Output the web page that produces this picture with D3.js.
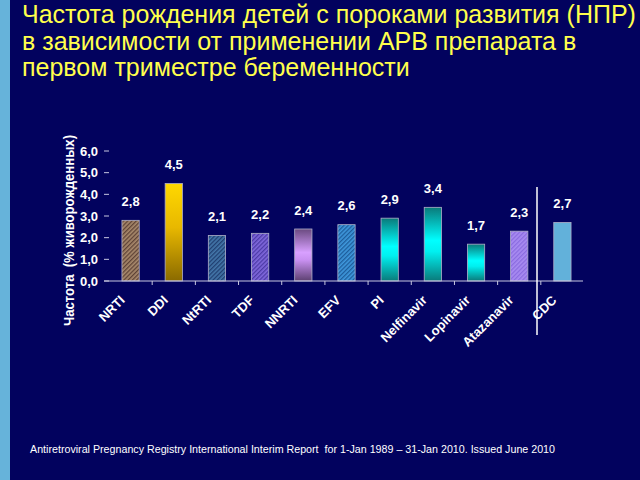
<!DOCTYPE html>
<html><head><meta charset="utf-8">
<script src="https://cdn.jsdelivr.net/npm/d3@7"></script>
<style>html,body{margin:0;padding:0;background:#02025e;}svg{display:block;}</style>
</head><body>
<script>
const categories = ["NRTI","DDI","NtRTI","TDF","NNRTI","EFV","PI","Nelfinavir","Lopinavir","Atazanavir","CDC"];
const values = [2.8,4.5,2.1,2.2,2.4,2.6,2.9,3.4,1.7,2.3,2.7];
const yTicks = [0,1,2,3,4,5,6];
const fills = ["url(#hBrown)","url(#gGold)","url(#hBlue)","url(#hPurple)","url(#gLilac)","url(#hSky)","url(#gCyan)","url(#gCyan)","url(#gCyan)","url(#hLav)","#62b1da"];
const titleLines = ["Частота рождения детей с пороками развития (НПР)","в зависимости от применении АРВ препарата в","первом триместре беременности"];
const yTitle = "Частота  (% живорожденных)";
const footer = "Antiretroviral Pregnancy Registry International Interim Report  for 1-Jan 1989 – 31-Jan 2010. Issued June 2010";

const W=640,H=480;
const FF="Liberation Sans, Arial, sans-serif";
const svg=d3.select("body").append("svg").attr("width",W).attr("height",H);
const defs=svg.append("defs");
svg.append("rect").attr("width",W).attr("height",H).attr("fill","#02025e");
svg.append("rect").attr("width",10).attr("height",H).attr("fill","#66b3da");

function hatch(id,base,line){
  const p=defs.append("pattern").attr("id",id).attr("patternUnits","userSpaceOnUse").attr("width",3).attr("height",3).attr("patternTransform","rotate(45)");
  p.append("rect").attr("width",3).attr("height",3).attr("fill",base);
  p.append("rect").attr("width",1.3).attr("height",3).attr("fill",line);
}
hatch("hBrown","#a98a6c","#5e4236");
hatch("hBlue","#4477aa","#203e70");
hatch("hPurple","#8068dc","#4c3aa6");
hatch("hSky","#3f98dc","#1d5c9a");
hatch("hLav","#a98cf2","#8a6ce0");
function vgrad(id,stops){
  const g=defs.append("linearGradient").attr("id",id).attr("x1",0).attr("x2",0).attr("y1",0).attr("y2",1);
  stops.forEach(s=>g.append("stop").attr("offset",s[0]).attr("stop-color",s[1]));
}
vgrad("gGold",[[0,"#ffd800"],[0.45,"#e8b800"],[1,"#8a6a00"]]);
vgrad("gLilac",[[0,"#6a4a80"],[0.45,"#d8a0ff"],[0.6,"#c890f0"],[1,"#5c4070"]]);
vgrad("gCyan",[[0,"#0a7a7a"],[0.45,"#00ffff"],[0.6,"#00f0f0"],[1,"#0a7a7a"]]);

// title
svg.append("g").selectAll("text").data(titleLines).join("text")
  .attr("x",22).attr("y",(d,i)=>23+i*26.5)
  .attr("fill","#ffff4c").attr("font-family",FF).attr("font-size",25)
  .text(d=>d);

const x=d3.scaleBand().domain(categories).range([109,584]).paddingInner(0.6).paddingOuter(0.3);
const y=d3.scaleLinear().domain([0,6]).range([281,151]);

// y axis
const yg=svg.append("g");
yg.selectAll("line").data(yTicks).join("line")
  .attr("x1",104).attr("x2",109).attr("y1",d=>y(d)).attr("y2",d=>y(d)).attr("stroke","#c8c8e0").attr("stroke-width",1);
yg.selectAll("text").data(yTicks).join("text")
  .attr("x",98).attr("y",d=>y(d)+4.5).attr("text-anchor","end")
  .attr("fill","#fff").attr("font-family",FF).attr("font-weight","bold").attr("font-size",13)
  .text(d=>d3.format(".1f")(d).replace(".",","));

// y title
svg.append("text").attr("transform","translate(74,230.5) rotate(-90)").attr("text-anchor","middle")
  .attr("fill","#fff").attr("font-family",FF).attr("font-weight","bold").attr("font-size",14)
  .attr("textLength",191).attr("lengthAdjust","spacingAndGlyphs")
  .style("white-space","pre").text(yTitle);

// bars
const step=x.step();
svg.append("g").selectAll("rect").data(categories).join("rect")
  .attr("x",d=>x(d)).attr("width",x.bandwidth())
  .attr("y",(d,i)=>y(values[i])).attr("height",(d,i)=>y(0)-y(values[i]))
  .attr("fill",(d,i)=>fills[i]).attr("stroke","#b0b0c8").attr("stroke-width",0.8);

// value labels
svg.append("g").selectAll("text").data(categories).join("text")
  .attr("x",d=>x(d)+x.bandwidth()/2).attr("y",(d,i)=>y(values[i])-14.5).attr("text-anchor","middle")
  .attr("fill","#fff").attr("font-family",FF).attr("font-weight","bold").attr("font-size",13)
  .text((d,i)=>d3.format(".1f")(values[i]).replace(".",","));

// x axis line + ticks
svg.append("line").attr("x1",104).attr("x2",583).attr("y1",y(0)).attr("y2",y(0)).attr("stroke","#c8c8e0").attr("stroke-width",1.2);
svg.append("g").selectAll("line").data(categories.slice(1)).join("line")
  .attr("x1",d=>x(d)+x.bandwidth()/2-step/2).attr("x2",d=>x(d)+x.bandwidth()/2-step/2)
  .attr("y1",y(0)).attr("y2",y(0)+4).attr("stroke","#c8c8e0");

// separator
svg.append("line").attr("x1",537).attr("x2",537).attr("y1",187).attr("y2",335).attr("stroke","#fff").attr("stroke-width",1.5);

// x labels
svg.append("g").selectAll("text").data(categories).join("text")
  .attr("transform",d=>`translate(${x(d)+x.bandwidth()/2-5},${301}) rotate(-45)`).attr("text-anchor","end")
  .attr("fill","#fff").attr("font-family",FF).attr("font-weight","bold").attr("font-size",13)
  .text(d=>d);

// footer
svg.append("text").attr("x",30).attr("y",453).attr("fill","#fff")
  .attr("font-family",FF).attr("font-size",10).attr("textLength",525).attr("lengthAdjust","spacingAndGlyphs")
  .style("white-space","pre").text(footer);
</script>
</body></html>
